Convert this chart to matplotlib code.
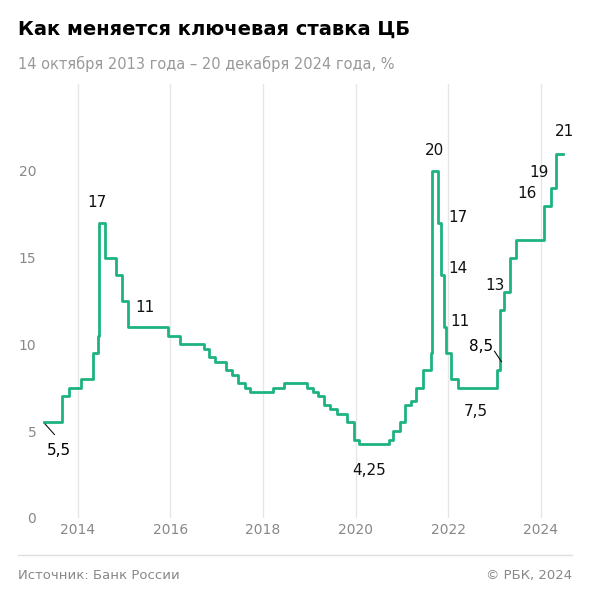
import matplotlib.pyplot as plt
from datetime import date

# key rate changes (date, rate %)
dates = ["2013-10-14", "2014-03-03", "2014-04-28", "2014-07-28", "2014-11-05", "2014-12-12",
         "2014-12-16", "2015-02-02", "2015-05-05", "2015-06-16", "2015-08-03", "2016-06-14",
         "2016-09-19", "2017-03-27", "2017-05-02", "2017-06-19", "2017-09-18", "2017-10-30",
         "2017-12-18", "2018-02-12", "2018-03-26", "2018-09-17", "2018-12-17", "2019-06-17",
         "2019-07-29", "2019-09-09", "2019-10-28", "2019-12-16", "2020-02-10", "2020-04-27",
         "2020-06-22", "2020-07-27", "2021-03-22", "2021-04-26", "2021-06-15", "2021-07-26",
         "2021-09-13", "2021-10-25", "2021-12-20", "2022-02-14", "2022-02-28", "2022-04-11",
         "2022-05-04", "2022-05-27", "2022-06-14", "2022-07-25", "2022-09-19", "2023-07-24",
         "2023-08-15", "2023-09-18", "2023-10-30", "2023-12-18", "2024-07-29", "2024-09-16",
         "2024-10-28", "2024-12-20"]
rates = [5.5, 7, 7.5, 8, 9.5, 10.5, 17, 15, 14, 12.5, 11, 10.5, 10, 9.75, 9.25, 9, 8.5, 8.25,
         7.75, 7.5, 7.25, 7.5, 7.75, 7.5, 7.25, 7, 6.5, 6.25, 6, 5.5, 4.5, 4.25, 4.5, 5, 5.5,
         6.5, 6.75, 7.5, 8.5, 9.5, 20, 17, 14, 11, 9.5, 8, 7.5, 8.5, 12, 13, 15, 16, 18, 19,
         21, 21]
years = [2014, 2016, 2018, 2020, 2022, 2024]
yticks = [0, 5, 10, 15, 20]

# labels: text, x (year), rate, dx, dy
labels = [("17", 2014.96, 17, -0.05, 1.2), ("11", 2015.9, 11, 0.05, 1.1),
          ("4,25", 2020.55, 4.25, 0.25, -1.5), ("20", 2022.16, 20, 0.05, 1.2),
          ("17", 2022.6, 17, 0.1, 0.3), ("14", 2022.6, 14, 0.1, 0.4),
          ("11", 2022.6, 11, 0.15, 0.3), ("7,5", 2022.8, 7.5, 0.3, -1.4),
          ("13", 2023.6, 13, -0.1, 0.4), ("16", 2024.0, 16, 0.2, 2.7),
          ("19", 2024.55, 19, -0.1, 0.9), ("21", 2024.85, 21, 0.17, 1.3)]


def to_year(s):
    d = date.fromisoformat(s)
    start = date(d.year, 1, 1)
    return d.year + (d - start).days / 365.25


xs = [to_year(d) for d in dates]
green = "#1db37e"

fig = plt.figure(figsize=(5.9, 6.02), dpi=100)
ax = fig.add_axes([0.071, 0.14, 0.892, 0.72])
ax.step(xs, rates, where="post", color=green, lw=2)

ax.set_xlim(2013.73, 2025.09)
ax.set_ylim(0, 25)
ax.set_xticks([y + 0.5 for y in years])
ax.set_xticklabels([str(y) for y in years])
ax.set_yticks(yticks)
ax.grid(axis="x", color="#e6e6e6", lw=1)
ax.set_axisbelow(True)
for s in ax.spines.values():
    s.set_visible(False)
ax.tick_params(length=0, colors="#888888", labelsize=10)
ax.tick_params(axis="y", pad=4)

for t, x, y, dx, dy in labels:
    ax.text(x + dx, y + dy, t, ha="center", va="center", fontsize=11, color="#111111")

# leader-line labels
ax.plot([2013.8, 2014.0], [5.4, 4.8], color="#111111", lw=0.8)
ax.text(2014.1, 3.9, "5,5", ha="center", va="center", fontsize=11)
ax.plot([2023.5, 2023.65], [9.6, 9.0], color="#111111", lw=0.8)
ax.text(2023.22, 9.9, "8,5", ha="center", va="center", fontsize=11)

fig.text(0.03, 0.942, "Как меняется ключевая ставка ЦБ", fontsize=14, fontweight="bold")
fig.text(0.03, 0.885, "14 октября 2013 года – 20 декабря 2024 года, %", fontsize=10.5, color="#999999")
fig.add_artist(plt.Line2D([0.03, 0.97], [0.078, 0.078], color="#e0e0e0", lw=1))
fig.text(0.03, 0.038, "Источник: Банк России", fontsize=9.5, color="#888888")
fig.text(0.97, 0.038, "© РБК, 2024", fontsize=9.5, color="#888888", ha="right")

fig.savefig("out.png", dpi=100)
